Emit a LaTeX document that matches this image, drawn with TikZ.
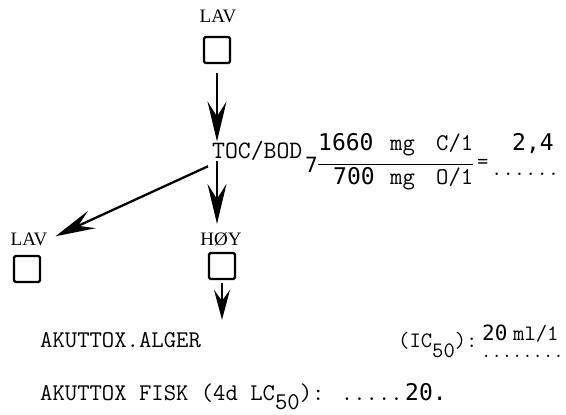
\documentclass[tikz,border=0pt]{standalone}
\usepackage{fontspec}
\setmainfont{Liberation Serif}
\newfontfamily\handfont{DejaVu Sans Mono}
\usetikzlibrary{arrows.meta}
\newcommand{\twf}{\ttfamily\addfontfeatures{FakeBold=2.5}}
\begin{document}
\begin{tikzpicture}[x=1pt,y=-1pt,
  lbl/.style={font=\fontsize{19}{21}\selectfont, inner sep=0pt, anchor=base},
  tt/.style={font=\twf\fontsize{24}{26}\selectfont, inner sep=0pt, anchor=base west},
  ttbig/.style={font=\twf\fontsize{25}{27}\selectfont, inner sep=0pt, anchor=base west},
  ttmid/.style={font=\twf\fontsize{22}{24}\selectfont, inner sep=0pt, anchor=base west},
  ttsmall/.style={font=\twf\fontsize{20}{22}\selectfont, inner sep=0pt, anchor=base west},
  hand/.style={font=\handfont\fontsize{23}{25}\selectfont, inner sep=0pt, anchor=base west},
  handsmall/.style={font=\handfont\fontsize{21}{23}\selectfont, inner sep=0pt, anchor=base west},
  sq/.style={draw, line width=2.3pt, minimum size=26pt, inner sep=0pt, rounded corners=1.5pt},
  arr/.style={line width=2.3pt, -{Stealth[length=40pt,width=19pt,inset=15pt]}},
  arrshort/.style={line width=2.3pt, -{Stealth[length=30pt,width=16pt,inset=11pt]}}
]
\useasboundingbox (0,0) rectangle (566,415);

% top
\node[lbl] (lavtop) at (218,22) {LAV};
\node[sq] (b1) at (217,50) {};

% TOC/BOD and fraction
\node[ttbig] (toc) at (212,158) {TOC/BOD};
\node[handsmall] (seven) at (305,172) {7};
\node[hand] (n1660) at (318,150) {1660};
\node[tt] (mg1) at (390,150) {mg};
\node[tt] (c1) at (436,150) {C/1};
\draw[line width=1.1pt] (n1660.south west) ++(0,14) coordinate (barl) -- (c1.south east |- barl);
\node[hand] (n700) at (333,184) {700};
\node[tt] (mg2) at (390,184) {mg};
\node[tt] (o1) at (436,184) {O/1};
\node[ttmid] (eq) at (477,168) {=};
\node[hand] (val) at (512,150) {2,4};
\node[ttmid] (dots1) at (491,175) {......};

% second level
\node[lbl] (lavl) at (29,245) {LAV};
\node[sq] (b2) at (27,269) {};
\node[lbl] (hoy) at (221,245) {HØY};
\node[sq] (b3) at (222,266) {};

% bottom lines
\node[tt] (akut) at (40,347) {AKUTTOX.ALGER};
\node[ttmid] (ic) at (398,347) {(IC\raisebox{-10pt}{50}):};
\node[handsmall] (v20) at (482,340) {20};
\node[ttmid] (ml) at (513,340) {ml/1};
\node[ttsmall] (dots2) at (481,357) {........};
\node[tt] (fisk) at (40,400) {AKUTTOX FISK (4d LC\raisebox{-9pt}{50}): .....};
\node[hand] (v20b) at ([xshift=2pt]fisk.base east) {20.};

% connectors
\draw[arr] ([yshift=-9pt]b1.south) -- ([yshift=-1pt]b1.south |- toc.north);
\draw[arr] ([yshift=-1pt]b1.south |- toc.south) -- ([yshift=8pt]b1.south |- hoy.north);
\draw[arr] ([xshift=-4pt,yshift=-6pt]toc.south west) -- ([xshift=8pt,yshift=-4pt]lavl.north east);
\draw[arrshort] ([yshift=-3pt]b3.south) -- ([yshift=12pt]b3.south |- akut.north);
\end{tikzpicture}
\end{document}
